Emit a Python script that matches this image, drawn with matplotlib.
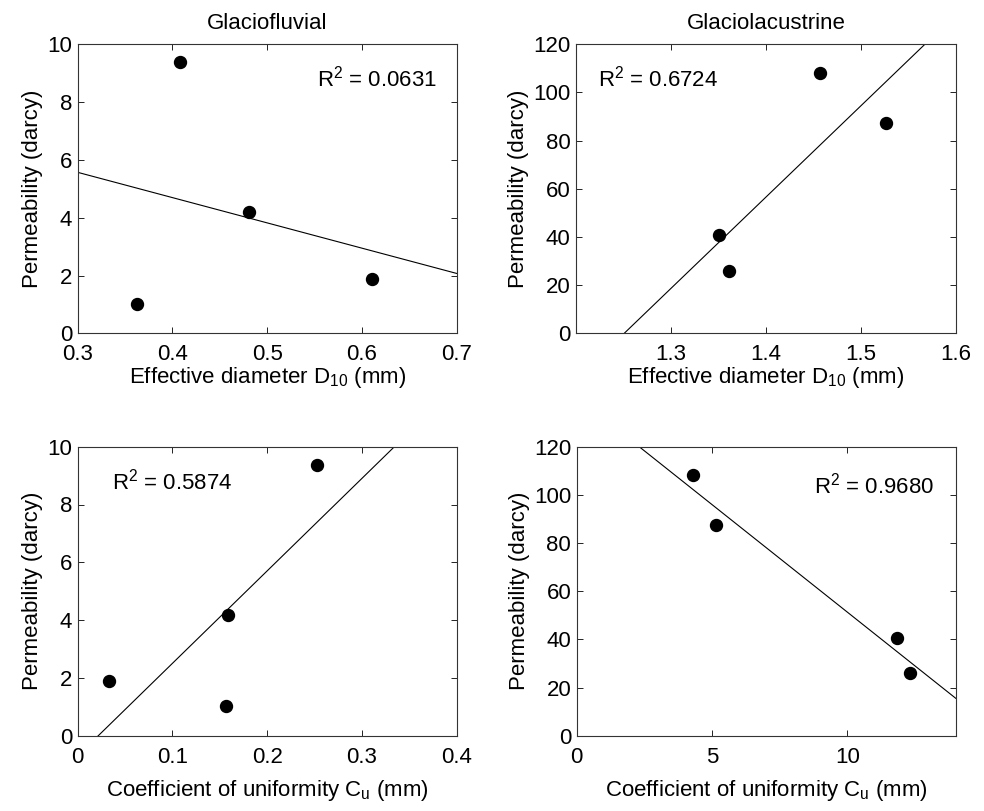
import numpy as np
import matplotlib
matplotlib.use("Agg")
import matplotlib.pyplot as plt

plt.rcParams['font.family'] = ['Liberation Sans', 'DejaVu Sans']
plt.rcParams['mathtext.fontset'] = 'custom'
plt.rcParams['mathtext.rm'] = 'Liberation Sans'
plt.rcParams['mathtext.it'] = 'Liberation Sans'

# Data
perm_fluvial = [1.02, 9.38, 4.19, 1.89]
d10_fluvial = [0.363, 0.408, 0.481, 0.611]
cu_fluvial = [0.157, 0.253, 0.159, 0.033]

perm_lacustrine = [40.7, 25.9, 108.2, 87.5]
d10_lacustrine = [1.350, 1.361, 1.457, 1.527]
cu_lacustrine = [11.82, 12.33, 4.30, 5.15]

r2_labels = ["0.0631", "0.6724", "0.5874", "0.9680"]
titles = ["Glaciofluvial", "Glaciolacustrine"]

W, H = 984, 811
fig = plt.figure(figsize=(W / 100, H / 100), dpi=100)

def rect(l, t, r, b):
    return [l / W, 1 - b / H, (r - l) / W, (b - t) / H]

panels = [
    dict(rect=rect(77.7, 44.3, 456.7, 333.3), x=d10_fluvial, y=perm_fluvial,
         xlim=(0.3, 0.7), xticks=[0.3, 0.4, 0.5, 0.6, 0.7], ylim=(0, 10), yticks=[0, 2, 4, 6, 8, 10],
         xlabel="Effective diameter D$_{10}$ (mm)", r2=r2_labels[0], tpos=(0.79, 0.883), title=titles[0], lp=0),
    dict(rect=rect(576.3, 44.3, 955.7, 333.3), x=d10_lacustrine, y=perm_lacustrine,
         xlim=(1.2, 1.6), xticks=[1.3, 1.4, 1.5, 1.6], ylim=(0, 120), yticks=[0, 20, 40, 60, 80, 100, 120],
         xlabel="Effective diameter D$_{10}$ (mm)", r2=r2_labels[1], tpos=(0.216, 0.883), title=titles[1], lp=0),
    dict(rect=rect(77.7, 446.7, 456.7, 735.7), x=cu_fluvial, y=perm_fluvial,
         xlim=(0, 0.4), xticks=[0, 0.1, 0.2, 0.3, 0.4], ylim=(0, 10), yticks=[0, 2, 4, 6, 8, 10],
         xlabel="Coefficient of uniformity C$_u$ (mm)", r2=r2_labels[2], tpos=(0.25, 0.879), title=None, lp=7),
    dict(rect=rect(576.7, 446.7, 955.7, 735.7), x=cu_lacustrine, y=perm_lacustrine,
         xlim=(0, 14), xticks=[0, 5, 10], ylim=(0, 120), yticks=[0, 20, 40, 60, 80, 100, 120],
         xlabel="Coefficient of uniformity C$_u$ (mm)", r2=r2_labels[3], tpos=(0.784, 0.864), title=None, lp=7),
]

fs = 16
for p in panels:
    ax = fig.add_axes(p['rect'])
    x = np.array(p['x']); y = np.array(p['y'])
    slope, intercept = np.polyfit(x, y, 1)
    xs = np.linspace(p['xlim'][0], p['xlim'][1], 200)
    ax.plot(xs, slope * xs + intercept, color='black', lw=0.8)
    ax.plot(x, y, 'o', color='black', markersize=8.6, zorder=3)
    ax.set_xlim(*p['xlim'])
    ax.set_ylim(*p['ylim'])
    ax.set_xticks(p['xticks'])
    ax.set_yticks(p['yticks'])
    ax.set_xticklabels([f"{v:g}" for v in p['xticks']])
    ax.tick_params(direction='in', top=True, right=True, length=4.5, width=0.7,
                   labelsize=fs, colors='#222222', labelcolor='black')
    ax.tick_params(axis='x', pad=8)
    ax.tick_params(axis='y', pad=4)
    for s in ax.spines.values():
        s.set_linewidth(0.8)
        s.set_color('#333333')
    ax.set_xlabel(p['xlabel'], fontsize=fs, labelpad=p['lp'])
    ax.set_ylabel("Permeability (darcy)", fontsize=fs, labelpad=3)
    ax.text(p['tpos'][0], p['tpos'][1], "R$^2$ = " + p['r2'], transform=ax.transAxes,
            ha='center', va='center', fontsize=fs)
    if p['title']:
        ax.set_title(p['title'], fontsize=fs, pad=11)

fig.savefig("out.png", dpi=100)
